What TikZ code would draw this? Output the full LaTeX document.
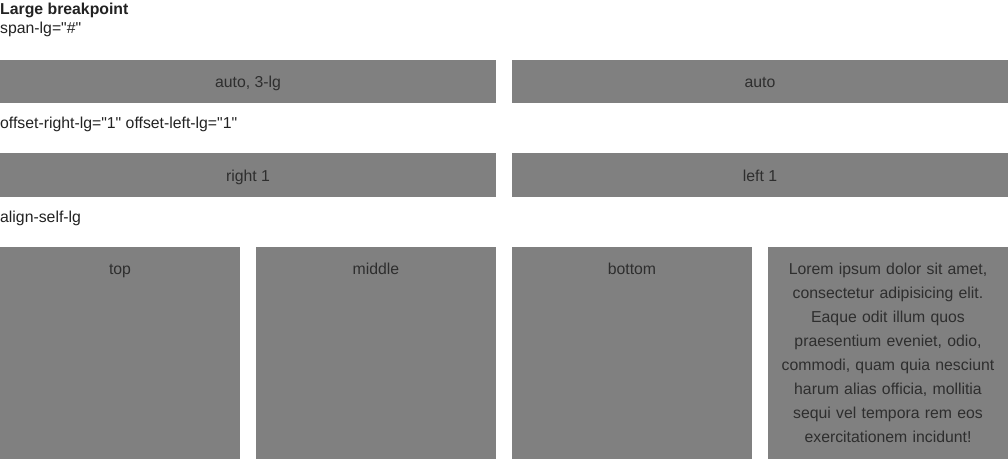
\documentclass[tikz,border=0pt]{standalone}
\usepackage{fontspec}
\setmainfont{Liberation Sans}
\newcommand{\qq}{\textquotedbl}
\begin{document}
\begin{tikzpicture}[x=1pt,y=-1pt,
  cell/.style={fill=boxgray,draw=none},
  celltext/.style={text=celltxt,font=\fontsize{15.8}{24}\selectfont,inner sep=0pt,anchor=base},
  label/.style={text=labeltxt,font=\fontsize{15.8}{17}\selectfont,inner sep=0pt,anchor=base west}]
\definecolor{boxgray}{HTML}{808080}
\definecolor{celltxt}{HTML}{2E2E2E}
\definecolor{labeltxt}{HTML}{222222}
\useasboundingbox (0,0) rectangle (1008,466);
\node[label,font=\bfseries\fontsize{15.8}{17}\selectfont] (title) at (0,14) {Large breakpoint};
\node[label] (span) at (0,33) {span-lg=\qq\#\qq};
\fill[cell] (0,60) rectangle (496,103);
\fill[cell] (512,60) rectangle (1008,103);
\node[celltext] (a1) at (248,87) {auto, 3-lg};
\node[celltext] (a2) at (760,87) {auto};
\node[label] (off) at (0,128) {offset-right-lg=\qq1\qq{} offset-left-lg=\qq1\qq};
\fill[cell] (0,153) rectangle (496,197);
\fill[cell] (512,153) rectangle (1008,197);
\node[celltext] (r1) at (248,181) {right 1};
\node[celltext] (l1) at (760,181) {left 1};
\node[label] (al) at (0,222) {align-self-lg};
\fill[cell] (0,247) rectangle (240,459);
\fill[cell] (256,247) rectangle (496,459);
\fill[cell] (512,247) rectangle (752,459);
\fill[cell] (768,247) rectangle (1008,459);
\node[celltext] (top) at (120,274) {top};
\node[celltext] (mid) at (376,274) {middle};
\node[celltext] (bot) at (632,274) {bottom};
\node[celltext,anchor=base,align=center,text width=240pt] (lorem) at (888,274)
 {Lorem ipsum dolor sit amet,\\ consectetur adipisicing elit.\\ Eaque odit illum quos\\ praesentium eveniet, odio,\\ commodi, quam quia nesciunt\\ harum alias officia, mollitia\\ sequi vel tempora rem eos\\ exercitationem incidunt!};
\end{tikzpicture}
\end{document}
